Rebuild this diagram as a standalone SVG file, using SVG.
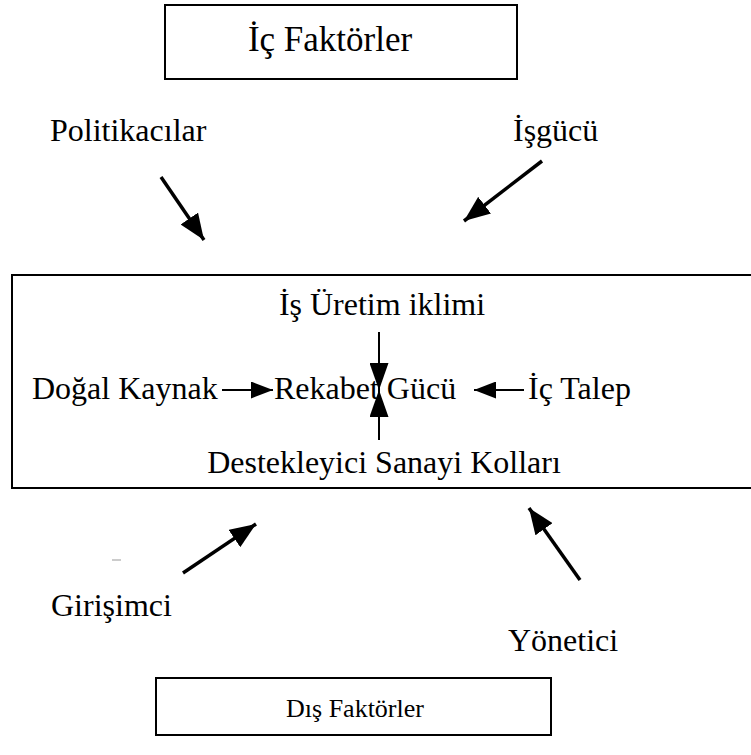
<svg xmlns="http://www.w3.org/2000/svg" width="751" height="755" viewBox="0 0 751 755">
<defs>
<style>
text{font-family:"Liberation Serif","Times New Roman",serif;font-size:32px;fill:#000}
.box{fill:none;stroke:#000;stroke-width:2}
.conn line{stroke:#000;stroke-width:3.5}
.conn line.thin{stroke-width:2}
</style>
<marker id="big" viewBox="0 0 10 10" refX="10" refY="5" markerWidth="26" markerHeight="21" markerUnits="userSpaceOnUse" orient="auto" preserveAspectRatio="none">
<path d="M0,0 L10,5 L0,10 z" fill="#000"/>
</marker>
<marker id="mid" viewBox="0 0 10 10" refX="10" refY="5" markerWidth="22" markerHeight="17" markerUnits="userSpaceOnUse" orient="auto" preserveAspectRatio="none">
<path d="M0,0 L10,5 L0,10 z" fill="#000"/>
</marker>
<marker id="vert" viewBox="0 0 10 10" refX="10" refY="5" markerWidth="27" markerHeight="19" markerUnits="userSpaceOnUse" orient="auto" preserveAspectRatio="none">
<path d="M0,0 L10,5 L0,10 z" fill="#000"/>
</marker>
</defs>
<rect width="751" height="755" fill="#fff"/>
<g id="ic-faktorler"><rect class="box" x="165" y="5" width="352" height="74"/><text x="330" y="51" text-anchor="middle" style="font-size:35px">İç Faktörler</text></g>
<g id="politikacilar"><text x="50" y="141">Politikacılar</text></g>
<g id="isgucu"><text x="513" y="141">İşgücü</text></g>
<g id="ana"><rect class="box" x="12" y="275" width="760" height="213"/></g>
<g id="is-uretim"><text x="382" y="315" text-anchor="middle">İş Üretim iklimi</text></g>
<g id="dogal"><text x="32" y="399">Doğal Kaynak</text></g>
<g id="rekabet"><text x="274" y="399">Rekabet Gücü</text></g>
<g id="ic-talep"><text x="528" y="399">İç Talep</text></g>
<g id="destek"><text x="384" y="473" text-anchor="middle">Destekleyici Sanayi Kolları</text></g>
<g id="girisimci"><text x="51" y="616">Girişimci</text></g>
<g id="yonetici"><text x="508" y="651">Yönetici</text></g>
<g id="dis-faktorler"><rect class="box" x="156" y="678" width="395" height="57"/><text x="355" y="717" text-anchor="middle" style="font-size:26px">Dış Faktörler</text></g>
<g class="conn" id="connectors">
<line x1="161" y1="177" x2="204" y2="240" marker-end="url(#big)"/>
<line x1="542" y1="161" x2="464" y2="221" marker-end="url(#big)"/>
<line class="thin" x1="222" y1="390" x2="273" y2="390" marker-end="url(#mid)"/>
<line class="thin" x1="524" y1="390" x2="474" y2="390" marker-end="url(#mid)"/>
<line class="thin" x1="379" y1="332" x2="379" y2="390" marker-end="url(#vert)"/>
<line class="thin" x1="379" y1="440" x2="379" y2="390" marker-end="url(#vert)"/>
<line x1="183" y1="573" x2="256" y2="524" marker-end="url(#big)"/>
<line x1="580" y1="580" x2="529" y2="508" marker-end="url(#big)"/>
</g>
<line x1="112" y1="560" x2="121" y2="560" stroke="#999" stroke-width="1"/>
</svg>
